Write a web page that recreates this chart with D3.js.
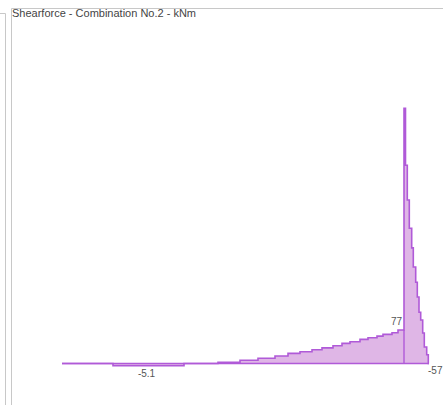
<!DOCTYPE html>
<html>
<head>
<meta charset="utf-8">
<script src="https://cdn.jsdelivr.net/npm/d3@7"></script>
<style>
  html, body { margin: 0; padding: 0; background: #fff; }
  svg { display: block; font-family: "Liberation Sans", Arial, sans-serif; }
</style>
</head>
<body>
<svg id="chart" width="443" height="405"></svg>
<script>
// Shear force along the member: station (m) where each step starts, and its value (kN)
const stations = [0, 2.55, 6.1, 7.8, 8.9, 9.8, 10.65, 11.3, 11.9, 12.5, 13.0, 13.55, 14.0, 14.4,
  14.9, 15.3, 15.75, 16.05, 16.5, 16.8, 17.1, 17.175, 17.265, 17.365, 17.485, 17.565, 17.685,
  17.765, 17.85, 17.935, 18.035, 18.115, 18.235, 18.315, 18.35];
const shear = [0, -5.1, 0, 2.5, 7.4, 12, 17.2, 23.4, 27, 31.7, 36, 41, 46.4, 50,
  55.6, 59.3, 63, 67, 70.8, 77, 587, 456, 376, 311, 266, 222, 187,
  153, 118, 100, 70, 38, 20, 0, 0];

// Value labels: station index they sit on and text
const labelIdx = [1, 19];
const labelText = ["-5.1", "77"];
const endLabel = "-57";
const title = "Shearforce - Combination No.2 - kNm";

const svg = d3.select("#chart");
const x = d3.scaleLinear().domain([0, 18.4]).range([62, 430]);
const y = d3.scaleLinear().domain([0, 587]).range([363.5, 108.3]);

const pts = stations.map((s, i) => ({ s, v: shear[i] }));

// Panel frame
const frame = svg.append("g").attr("stroke", "#c8c8c8").attr("fill", "none").attr("stroke-width", 1);
frame.append("path").attr("d", "M0,13.5H5.5V405");
frame.append("path").attr("d", "M11.5,405V8.5H443");

// Title
svg.append("text").attr("x", 12).attr("y", 17)
  .attr("font-size", 11).attr("fill", "#444").text(title);

// Filled step diagram
const area = d3.area().curve(d3.curveStepAfter)
  .x(d => x(d.s)).y0(y(0)).y1(d => y(d.v));
const line = d3.line().curve(d3.curveStepAfter)
  .x(d => x(d.s)).y(d => y(d.v));

svg.append("path").datum(pts).attr("d", area)
  .attr("fill", "#dfb6e6");

// Baseline of the member
svg.append("line")
  .attr("x1", x(0)).attr("x2", x(stations[stations.length - 1]))
  .attr("y1", y(0)).attr("y2", y(0))
  .attr("stroke", "#b05ad8").attr("stroke-width", 1.6);

svg.append("path").datum(pts).attr("d", line)
  .attr("fill", "none").attr("stroke", "#b05ad8").attr("stroke-width", 1.6);

// Vertical marker at the peak before the jump
const pk = pts[labelIdx[1]];
svg.append("line")
  .attr("x1", x(pts[20].s)).attr("x2", x(pts[20].s))
  .attr("y1", y(0)).attr("y2", y(pk.v))
  .attr("stroke", "#b05ad8").attr("stroke-width", 1.4);

// Value labels
const lab = svg.append("g").attr("font-size", 10).attr("fill", "#555");
lab.append("text")
  .attr("x", (x(stations[1]) + x(stations[2])) / 2 - 2).attr("y", y(shear[1]) + 11)
  .attr("text-anchor", "middle").text(labelText[0]);
lab.append("text")
  .attr("x", x(stations[20]) - 2).attr("y", y(shear[19]) - 5)
  .attr("text-anchor", "end").text(labelText[1]);
lab.append("text")
  .attr("x", x(stations[stations.length - 1]) - 1).attr("y", y(0) + 10)
  .text(endLabel);
</script>
</body>
</html>
